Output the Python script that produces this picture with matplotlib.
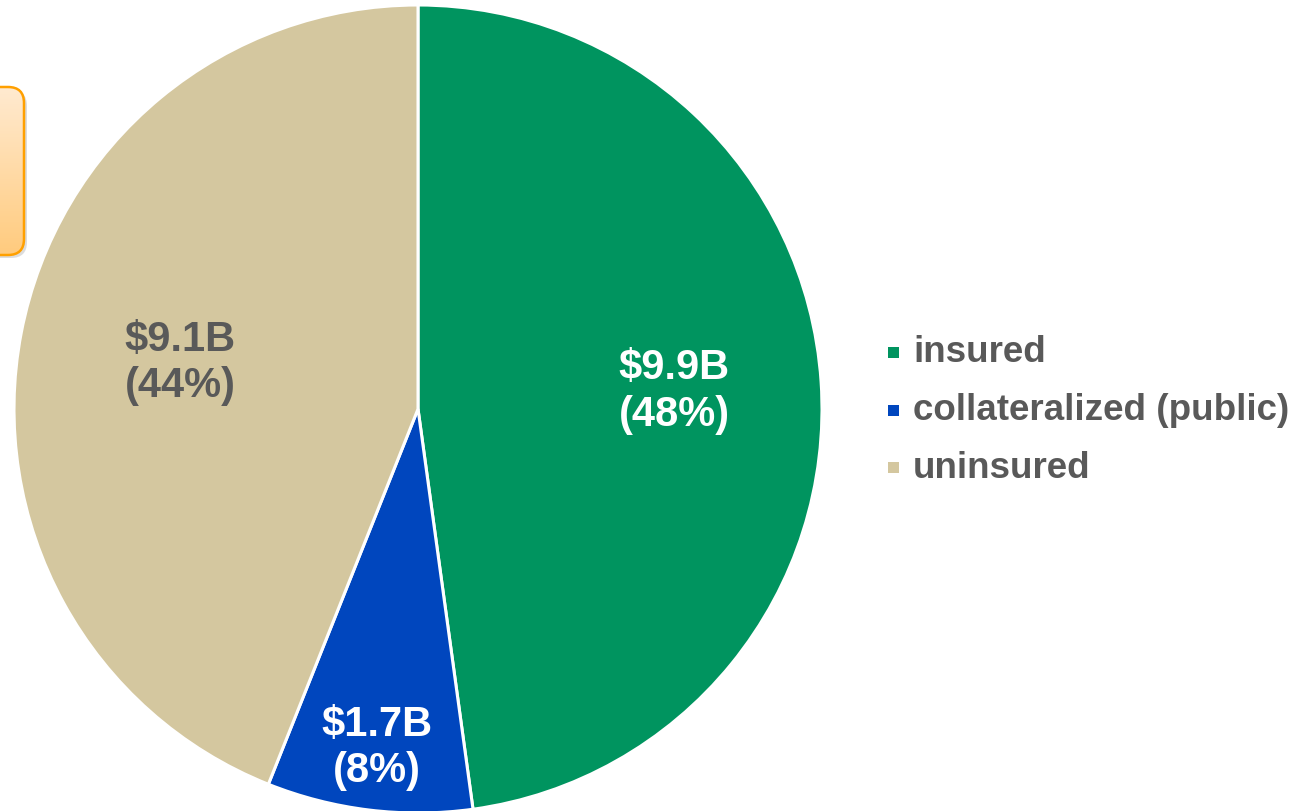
import numpy as np
import matplotlib
matplotlib.use('Agg')
import matplotlib.pyplot as plt
from matplotlib.patches import FancyBboxPatch, Rectangle

plt.rcParams['font.family'] = ['Liberation Sans', 'DejaVu Sans']

categories = ['insured', 'collateralized (public)', 'uninsured']
values = [9.9, 1.7, 9.1]
value_labels = ['$9.9B', '$1.7B', '$9.1B']
pct_labels = ['48%', '8%', '44%']
colors = ['#00945F', '#0046BE', '#D4C79F']
label_colors = ['white', 'white', '#595959']

W, H = 1313, 811
fig = plt.figure(figsize=(W / 100, H / 100), dpi=100)
ax = fig.add_axes([0, 0, 1, 1])

cx, cy, r = 418, H - 409, 404
wedges, _ = ax.pie(values, colors=colors, startangle=90, counterclock=False,
                   center=(cx, cy), radius=r, frame=True,
                   wedgeprops=dict(edgecolor='white', linewidth=2.2))
ax.set_aspect('equal')
ax.axis('off')

# label positions: fraction of radius along the wedge bisector
label_dist = [0.635, 0.845, 0.6]
total = sum(values)
start = 90
for i, v in enumerate(values):
    span = 360 * v / total
    mid = np.deg2rad(start - span / 2)
    start -= span
    x = cx + label_dist[i] * r * np.cos(mid)
    y = cy + label_dist[i] * r * np.sin(mid)
    ax.text(x, y, f"{value_labels[i]}\n({pct_labels[i]})", ha='center', va='center',
            fontsize=30, fontweight='bold', color=label_colors[i], linespacing=1.2)

# legend
for i, cat in enumerate(categories):
    ly = H - 353 - i * 57.5
    ax.add_patch(Rectangle((888, ly - 5), 11, 11, facecolor=colors[i], edgecolor='none'))
    ax.text(913, ly, cat, ha='left', va='center', fontsize=26.5, fontweight='bold', color='#595959')

# clipped callout box at left edge
shadow = FancyBboxPatch((-60 + 3, H - 255 - 3), 84, 168, boxstyle='round,pad=0,rounding_size=16',
                        facecolor='#bbbbbb', edgecolor='none', alpha=0.5, zorder=4)
ax.add_patch(shadow)
box = FancyBboxPatch((-60, H - 255), 84, 168, boxstyle='round,pad=0,rounding_size=16',
                     facecolor='none', edgecolor='#FFA000', linewidth=1.8, zorder=6)
ax.add_patch(box)
grad = np.linspace(0, 1, 100).reshape(-1, 1)
img = ax.imshow(grad, extent=(-60, 24, H - 255, H - 87), origin='upper', aspect='auto',
                cmap=matplotlib.colors.LinearSegmentedColormap.from_list('g', ['#FFEAD0', '#FFCB7E']),
                zorder=5)
img.set_clip_path(box)
ax.set_xlim(0, W)
ax.set_ylim(0, H)

fig.savefig('out.png', dpi=100)
